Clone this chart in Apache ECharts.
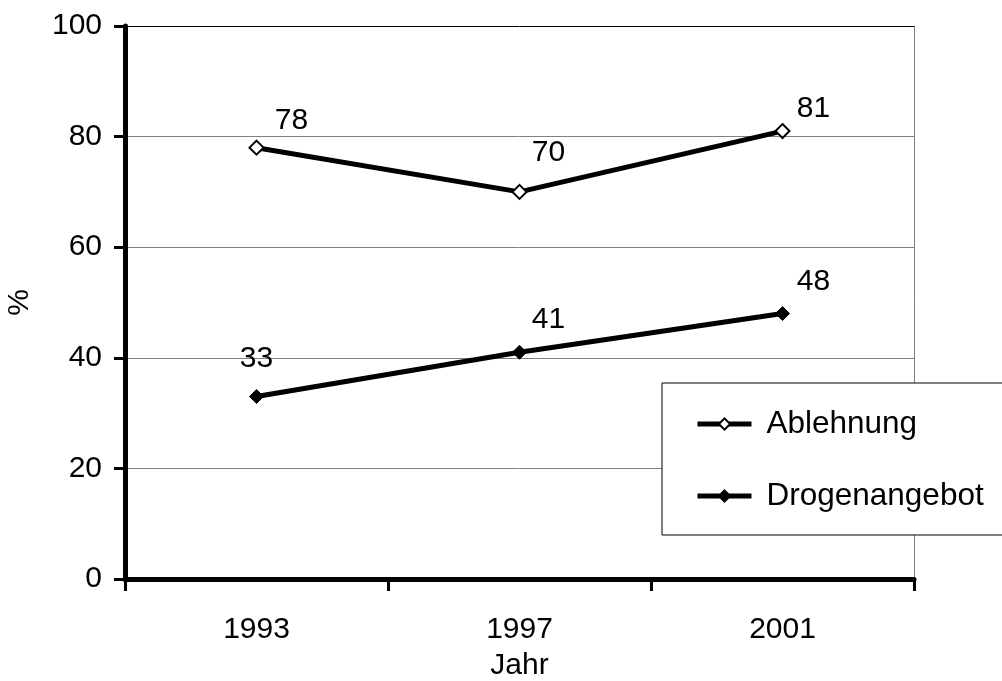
<!DOCTYPE html>
<html>
<head>
<meta charset="utf-8">
<script src="https://cdn.jsdelivr.net/npm/echarts@6/dist/echarts.min.js"></script>
<style>
  html, body { margin: 0; padding: 0; background: #fff; }
  #chart { width: 1002px; height: 681px; }
</style>
</head>
<body>
<div id="chart"></div>
<script>
const years = ['1993', '1997', '2001']
const ablehnung = [78, 70, 81]
const drogenangebot = [33, 41, 48]
const yTicks = [0, 20, 40, 60, 80, 100]

// label offsets as Excel placed them
const offsetsA = [[35, 1], [29, -11], [31, 6]]
const offsetsD = [[0, -10], [29, -5], [31, -4]]

const fontFamily = '"Liberation Sans", Arial, sans-serif'
const textStyle = { color: '#000', fontSize: 30, fontFamily: fontFamily }

function withLabels (values, offsets) {
  return values.map((v, i) => ({
    value: v,
    label: { offset: offsets[i] }
  }))
}

const chart = echarts.init(document.getElementById('chart'), null, { renderer: 'canvas' })

const option = {
  animation: false,
  backgroundColor: '#fff',
  textStyle: textStyle,
  grid: { left: 125, right: 88, top: 26, bottom: 102, containLabel: false, outerBoundsMode: 'none' },
  legend: {
    orient: 'vertical',
    left: 662,
    top: 383,
    padding: [25, 40, 23, 33],
    itemGap: 40,
    itemWidth: 54,
    itemHeight: 14,
    borderColor: '#000',
    borderWidth: 1,
    backgroundColor: '#fff',
    lineStyle: { color: '#000', width: 5 },
    textStyle: { ...textStyle, fontSize: 31.5, padding: [0, 0, 0, 10] },
    data: ['Ablehnung', 'Drogenangebot']
  },
  xAxis: {
    type: 'category',
    data: years,
    boundaryGap: true,
    name: 'Jahr',
    nameLocation: 'middle',
    nameGap: 72,
    nameTextStyle: textStyle,
    axisLine: { lineStyle: { color: '#000', width: 5 } },
    axisTick: { show: true, length: 12, lineStyle: { color: '#000', width: 3 } },
    axisLabel: { ...textStyle, margin: 36 },
    splitLine: { show: false }
  },
  yAxis: [{
    type: 'value',
    min: yTicks[0],
    max: yTicks[yTicks.length - 1],
    interval: yTicks[1] - yTicks[0],
    name: '%',
    nameLocation: 'middle',
    nameGap: 90,
    nameRotate: 90,
    nameTextStyle: textStyle,
    axisLine: { show: true, lineStyle: { color: '#000', width: 5 } },
    axisTick: { show: true, length: 11, lineStyle: { color: '#000', width: 3 } },
    axisLabel: { ...textStyle, margin: 23 },
    splitLine: {
      show: true,
      lineStyle: { color: ['#808080', '#808080', '#808080', '#808080', '#808080', '#000'], width: 1 }
    }
  }, {
    type: 'value',
    position: 'right',
    min: yTicks[0],
    max: yTicks[yTicks.length - 1],
    interval: yTicks[1] - yTicks[0],
    axisLine: { show: true, lineStyle: { color: '#808080', width: 1 } },
    axisTick: { show: false },
    axisLabel: { show: false },
    splitLine: { show: false }
  }],
  series: [{
    name: 'Ablehnung',
    type: 'line',
    data: withLabels(ablehnung, offsetsA),
    symbol: 'diamond',
    symbolSize: 14,
    lineStyle: { color: '#000', width: 5 },
    itemStyle: { color: '#fff', borderColor: '#000', borderWidth: 2 },
    label: { show: true, position: 'top', ...textStyle },
    z: 3
  }, {
    name: 'Drogenangebot',
    type: 'line',
    data: withLabels(drogenangebot, offsetsD),
    symbol: 'diamond',
    symbolSize: 14,
    lineStyle: { color: '#000', width: 5 },
    itemStyle: { color: '#000', borderColor: '#000', borderWidth: 1 },
    label: { show: true, position: 'top', ...textStyle },
    z: 3
  }]
}

chart.setOption(option)
</script>
</body>
</html>
